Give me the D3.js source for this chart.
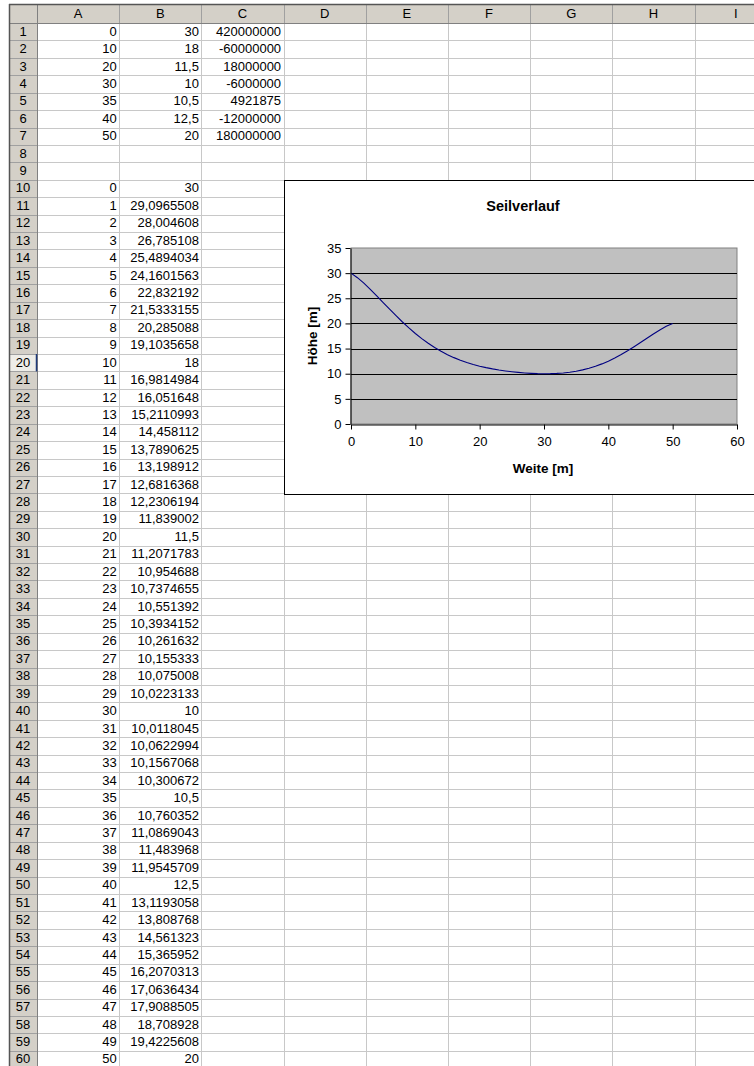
<!DOCTYPE html>
<html><head><meta charset="utf-8">
<script src="https://cdn.jsdelivr.net/npm/d3@7"></script>
<style>
html,body{margin:0;padding:0;background:#fff;}
svg{display:block;font-family:"Liberation Sans",Arial,sans-serif;}
</style></head><body>
<svg id="s" width="754" height="1066"></svg>
<script>
// ---- data ----
const columnLetters = ["A","B","C","D","E","F","G","H","I"];
const topX = [0,10,20,30,35,40,50];
const topY = [30,18,11.5,10,10.5,12.5,20];
const topC = [420000000,-60000000,18000000,-6000000,4921875,-12000000,180000000];
const weite = [0,1,2,3,4,5,6,7,8,9,10,11,12,13,14,15,16,17,18,19,20,21,22,23,24,25,26,27,28,29,30,31,32,33,34,35,36,37,38,39,40,41,42,43,44,45,46,47,48,49,50];
const hoehe = [30,29.0965508,28.004608,26.785108,25.4894034,24.1601563,22.832192,21.5333155,20.285088,19.1035658,18,16.9814984,16.051648,15.2110993,14.458112,13.7890625,13.198912,12.6816368,12.2306194,11.839002,11.5,11.2071783,10.954688,10.7374655,10.551392,10.3934152,10.261632,10.155333,10.075008,10.0223133,10,10.0118045,10.0622994,10.1567068,10.300672,10.5,10.760352,11.0869043,11.483968,11.9545709,12.5,13.1193058,13.808768,14.561323,15.365952,16.2070313,17.0636434,17.9088505,18.708928,19.4225608,20];
const xTicks = [0,10,20,30,40,50,60];
const yTicks = [0,5,10,15,20,25,30,35];
const chartTitle = "Seilverlauf";
const xTitle = "Weite [m]";
const yTitle = "Höhe [m]";

const svg = d3.select("#s");
const fmt = v => String(v).replace(".", ",");

// ---- grid geometry ----
const gx0 = 9, gy0 = 4, headH = 19, rowH = 17.42, rhW = 28, colW = 82.2;
const nRows = 60;
const cellFont = 13;
const txtOff = 4.0;
const rowTop = i => gy0 + headH + (i - 1) * rowH; // i: 1-based
const colLeft = j => gx0 + rhW + j * colW;

// header row background
svg.append("rect").attr("x", gx0).attr("y", gy0).attr("width", 760).attr("height", headH).attr("fill", "#D4D0C8");
// row header background
svg.append("rect").attr("x", gx0).attr("y", gy0).attr("width", rhW).attr("height", 1100).attr("fill", "#D4D0C8");
// row 20 header (active row) lighter
svg.append("rect").attr("x", gx0).attr("y", rowTop(20)).attr("width", rhW).attr("height", rowH).attr("fill", "#EEEDE8");

// cell gridlines
const g = svg.append("g");
for (let i = 1; i <= nRows + 1; i++) {
  const y = Math.round(rowTop(i)) + 0.5;
  g.append("line").attr("x1", gx0 + rhW).attr("x2", 760).attr("y1", y).attr("y2", y).attr("stroke", "#C8C8C8");
  g.append("line").attr("x1", gx0).attr("x2", gx0 + rhW).attr("y1", y).attr("y2", y).attr("stroke", "#A0A0A0");
}
columnLetters.forEach((c, j) => {
  const x = Math.round(colLeft(j + 1)) + 0.5;
  g.append("line").attr("x1", x).attr("x2", x).attr("y1", gy0 + headH).attr("y2", 1066).attr("stroke", "#C8C8C8");
  g.append("line").attr("x1", x).attr("x2", x).attr("y1", gy0).attr("y2", gy0 + headH).attr("stroke", "#A0A0A0");
  g.append("text").attr("x", colLeft(j) + colW / 2).attr("y", gy0 + headH / 2 + 4.6)
    .attr("text-anchor", "middle").attr("font-size", cellFont).attr("fill", "#000").text(c);
});
// header borders
g.append("line").attr("x1", gx0 + rhW + 0.5).attr("x2", gx0 + rhW + 0.5).attr("y1", gy0).attr("y2", 1066).attr("stroke", "#808080");
g.append("line").attr("x1", gx0).attr("x2", 760).attr("y1", gy0 + headH + 0.5).attr("y2", gy0 + headH + 0.5).attr("stroke", "#808080");
g.append("line").attr("x1", gx0 + 0.5).attr("x2", gx0 + 0.5).attr("y1", gy0).attr("y2", 1066).attr("stroke", "#555").attr("stroke-width", 1.5);
g.append("line").attr("x1", gx0).attr("x2", 760).attr("y1", gy0 + 0.5).attr("y2", gy0 + 0.5).attr("stroke", "#555").attr("stroke-width", 1.5);

// row numbers
for (let i = 1; i <= nRows; i++) {
  g.append("text").attr("x", gx0 + rhW / 2).attr("y", rowTop(i) + rowH / 2 + txtOff)
    .attr("text-anchor", "middle").attr("font-size", cellFont).attr("fill", "#000").text(i);
}
// row 20 marker
g.append("line").attr("x1", gx0 + rhW - 0.5).attr("x2", gx0 + rhW - 0.5).attr("y1", rowTop(20)).attr("y2", rowTop(21)).attr("stroke", "#1F3A7A").attr("stroke-width", 1.5);

// cell values
function cell(row, col, val) {
  g.append("text").attr("x", colLeft(col + 1) - 2.5).attr("y", rowTop(row) + rowH / 2 + txtOff)
    .attr("text-anchor", "end").attr("font-size", cellFont).attr("fill", "#000").text(fmt(val));
}
topX.forEach((v, k) => { cell(k + 1, 0, v); cell(k + 1, 1, topY[k]); cell(k + 1, 2, topC[k]); });
weite.forEach((v, k) => { cell(k + 10, 0, v); cell(k + 10, 1, hoehe[k]); });

// ---- chart ----
const cb = svg.append("g");
cb.append("rect").attr("x", 284.5).attr("y", 180.5).attr("width", 480).attr("height", 314)
  .attr("fill", "#fff").attr("stroke", "#000").attr("stroke-width", 1);
cb.append("text").attr("x", 523).attr("y", 210.5).attr("text-anchor", "middle")
  .attr("font-size", 14.5).attr("font-weight", "bold").text(chartTitle);

const pl = 351, pr = 737, pt = 248, pb = 424;
const x = d3.scaleLinear().domain([0, 60]).range([pl, pr]);
const y = d3.scaleLinear().domain([0, 35]).range([pb, pt]);

cb.append("rect").attr("x", pl).attr("y", pt).attr("width", pr - pl).attr("height", pb - pt)
  .attr("fill", "#C0C0C0").attr("stroke", "#808080");

// gridlines
cb.append("g").selectAll("line").data(yTicks.filter(t => t > 0 && t < 35)).join("line")
  .attr("x1", pl).attr("x2", pr).attr("y1", d => Math.round(y(d)) + 0.5).attr("y2", d => Math.round(y(d)) + 0.5)
  .attr("stroke", "#000").attr("stroke-width", 1);

// line
cb.append("path").datum(weite.map((w, k) => [w, hoehe[k]]))
  .attr("d", d3.line().x(d => x(d[0])).y(d => y(d[1])))
  .attr("fill", "none").attr("stroke", "#000080").attr("stroke-width", 1.1);

// axes
const xa = cb.append("g").attr("transform", `translate(0,${pb + 0.5})`)
  .call(d3.axisBottom(x).tickValues(xTicks).tickSize(5).tickPadding(7).tickSizeOuter(0));
const ya = cb.append("g").attr("transform", `translate(${pl - 0.5},0)`)
  .call(d3.axisLeft(y).tickValues(yTicks).tickSize(5).tickPadding(4).tickSizeOuter(0));
[xa, ya].forEach(a => {
  a.select(".domain").attr("stroke", "#000");
  a.selectAll(".tick line").attr("stroke", "#000");
  a.selectAll("text").attr("font-size", 13).attr("fill", "#000").attr("font-family", '"Liberation Sans",Arial,sans-serif');
});

cb.append("text").attr("x", 543).attr("y", 472.5).attr("text-anchor", "middle")
  .attr("font-size", 13.5).attr("font-weight", "bold").text(xTitle);
cb.append("text").attr("transform", "translate(317,336) rotate(-90)").attr("text-anchor", "middle")
  .attr("font-size", 13.5).attr("font-weight", "bold").text(yTitle);
</script>
</body></html>
